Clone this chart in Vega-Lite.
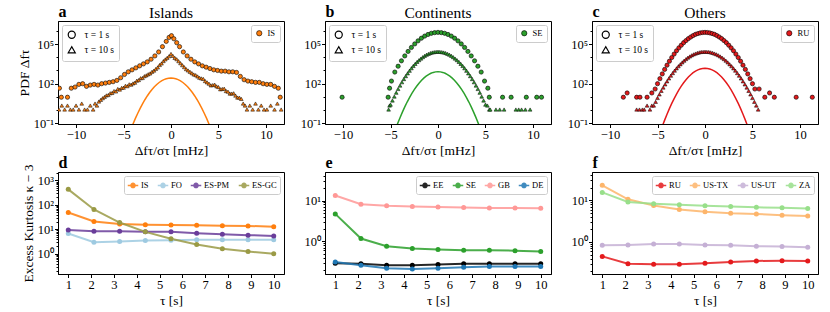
{
"$schema": "https://vega.github.io/schema/vega-lite/v6.json",
"padding": {"left": 16, "top": 2, "right": 2, "bottom": 0},
"config": {
  "font": "Liberation Serif",
  "view": {"stroke": "black", "strokeWidth": 1},
  "axis": {"grid": false, "domainColor": "black", "domainWidth": 1, "tickColor": "black", "labelColor": "black", "titleColor": "black", "labelFont": "Liberation Serif", "titleFont": "Liberation Serif", "labelFontSize": 12.5, "titleFontSize": 13.5, "titleFontWeight": "normal", "tickSize": 3.5, "labelPadding": 1, "titlePadding": 2, "labelFlush": false},
  "legend": {"labelFont": "Liberation Serif", "labelFontSize": 8, "labelColor": "black"},
  "title": {"font": "Liberation Serif", "fontSize": 15.5, "fontWeight": "normal", "color": "black", "frame": "group"}
},
"resolve": {"scale": {"color": "independent", "shape": "independent", "x": "independent", "y": "independent"}, "legend": {"color": "independent", "shape": "independent"}, "axis": {"x": "independent", "y": "independent"}},
"datasets": {
"none": [],
"gauss": [
{"x":-4.75,"ya":0.0034,"yb":0.0102,"yc":0.0186},{"x":-4.5,"ya":0.0108,"yb":0.0325,"yc":0.0593},{"x":-4.25,"ya":0.0323,"yb":0.0969,"yc":0.177},{"x":-4,"ya":0.0905,"yb":0.271,"yc":0.496},{"x":-3.75,"ya":0.239,"yb":0.716,"yc":1.308},{"x":-3.5,"ya":0.59,"yb":1.771,"yc":3.237},{"x":-3.25,"ya":1.373,"yb":4.12,"yc":7.53},{"x":-3,"ya":3.0,"yb":9.0,"yc":16.44},{"x":-2.75,"ya":6.15,"yb":18.46,"yc":33.7},{"x":-2.5,"ya":11.86,"yb":35.6,"yc":65.0},{"x":-2.25,"ya":21.5,"yb":64.4,"yc":117.7},{"x":-2,"ya":36.5,"yb":109.6,"yc":200.2},{"x":-1.75,"ya":58.4,"yb":175.2,"yc":320.1},{"x":-1.5,"ya":87.7,"yb":263,"yc":480.6},{"x":-1.25,"ya":123.6,"yb":370.8,"yc":677.5},{"x":-1,"ya":163.8,"yb":491.3,"yc":897.6},{"x":-0.75,"ya":203.8,"yb":611.4,"yc":1117},{"x":-0.5,"ya":238.3,"yb":714.8,"yc":1306},{"x":-0.25,"ya":261.7,"yb":785,"yc":1434},{"x":0,"ya":270,"yb":810,"yc":1480},
{"x":0.25,"ya":261.7,"yb":785,"yc":1434},{"x":0.5,"ya":238.3,"yb":714.8,"yc":1306},{"x":0.75,"ya":203.8,"yb":611.4,"yc":1117},{"x":1,"ya":163.8,"yb":491.3,"yc":897.6},{"x":1.25,"ya":123.6,"yb":370.8,"yc":677.5},{"x":1.5,"ya":87.7,"yb":263,"yc":480.6},{"x":1.75,"ya":58.4,"yb":175.2,"yc":320.1},{"x":2,"ya":36.5,"yb":109.6,"yc":200.2},{"x":2.25,"ya":21.5,"yb":64.4,"yc":117.7},{"x":2.5,"ya":11.86,"yb":35.6,"yc":65.0},{"x":2.75,"ya":6.15,"yb":18.46,"yc":33.7},{"x":3,"ya":3.0,"yb":9.0,"yc":16.44},{"x":3.25,"ya":1.373,"yb":4.12,"yc":7.53},{"x":3.5,"ya":0.59,"yb":1.771,"yc":3.237},{"x":3.75,"ya":0.239,"yb":0.716,"yc":1.308},{"x":4,"ya":0.0905,"yb":0.271,"yc":0.496},{"x":4.25,"ya":0.0323,"yb":0.0969,"yc":0.177},{"x":4.5,"ya":0.0108,"yb":0.0325,"yc":0.0593},{"x":4.75,"ya":0.0034,"yb":0.0102,"yc":0.0186}
],
"aC": [
{"x":-11.75,"y":45.7},{"x":-11.55,"y":9.5},{"x":-10.9,"y":9.5},{"x":-10.5,"y":45.7},{"x":-10.1,"y":56},{"x":-9.7,"y":89},{"x":-9.3,"y":100},{"x":-8.9,"y":63},{"x":-8.5,"y":79},{"x":-8.1,"y":89},{"x":-7.7,"y":79},{"x":-7.3,"y":100},{"x":-6.9,"y":112},{"x":-6.5,"y":126},{"x":-6.1,"y":141},{"x":-5.7,"y":178},{"x":-5.3,"y":282},{"x":-4.9,"y":501},{"x":-4.5,"y":794},{"x":-4.1,"y":1120},{"x":-3.7,"y":1580},{"x":-3.3,"y":2240},{"x":-2.9,"y":3160},{"x":-2.5,"y":4470},{"x":-2.1,"y":7080},{"x":-1.7,"y":12600},{"x":-1.3,"y":25100},{"x":-0.9,"y":63100},{"x":-0.5,"y":158000},{"x":-0.2,"y":316000},{"x":0.05,"y":427000},{"x":0.3,"y":251000},{"x":0.6,"y":126000},{"x":0.9,"y":63100},{"x":1.3,"y":25100},{"x":1.7,"y":12600},{"x":2.1,"y":7080},{"x":2.5,"y":4470},{"x":2.9,"y":3160},{"x":3.3,"y":2240},{"x":3.7,"y":1780},{"x":4.1,"y":1410},{"x":4.5,"y":1120},{"x":4.9,"y":1000},{"x":5.3,"y":891},{"x":5.7,"y":891},{"x":6.1,"y":794},{"x":6.5,"y":794},{"x":6.9,"y":708},{"x":7.3,"y":355},{"x":7.7,"y":200},{"x":8.1,"y":158},{"x":8.5,"y":141},{"x":8.9,"y":126},{"x":9.3,"y":126},{"x":9.7,"y":100},{"x":10.1,"y":89},{"x":10.5,"y":89},{"x":10.9,"y":63},{"x":11.3,"y":45.7},{"x":11.5,"y":9.5}
],
"aT": [
{"x":-11.8,"y":1.12},{"x":-11.5,"y":2.24},{"x":-11.2,"y":1.12},{"x":-10.9,"y":2.24},{"x":-10.6,"y":1.12},{"x":-10.3,"y":1.12},{"x":-10.0,"y":2.24},{"x":-9.7,"y":1.12},{"x":-9.4,"y":3.16},{"x":-9.1,"y":1.12},{"x":-8.8,"y":1.12},{"x":-8.5,"y":2.24},{"x":-8.2,"y":1.12},{"x":-8.0,"y":3.16},{"x":-7.8,"y":2.24},{"x":-7.6,"y":4.5},
{"x":-7.4,"y":6},{"x":-7.2,"y":8},{"x":-7.0,"y":10},{"x":-6.8,"y":13},{"x":-6.6,"y":14},{"x":-6.4,"y":19},{"x":-6.2,"y":20},{"x":-6.0,"y":28},{"x":-5.8,"y":26},{"x":-5.6,"y":40},{"x":-5.4,"y":36},{"x":-5.2,"y":48},{"x":-5.0,"y":50},{"x":-4.8,"y":70},{"x":-4.6,"y":65},{"x":-4.4,"y":90},{"x":-4.2,"y":85},{"x":-4.0,"y":105},{"x":-3.8,"y":120},{"x":-3.6,"y":170},{"x":-3.4,"y":190},{"x":-3.2,"y":260},{"x":-3.0,"y":270},{"x":-2.8,"y":370},{"x":-2.6,"y":430},{"x":-2.4,"y":520},{"x":-2.2,"y":600},{"x":-2.0,"y":800},{"x":-1.8,"y":980},{"x":-1.6,"y":1300},{"x":-1.4,"y":1700},{"x":-1.2,"y":2600},{"x":-1.0,"y":3400},{"x":-0.8,"y":5100},{"x":-0.6,"y":6900},{"x":-0.4,"y":9100},{"x":-0.2,"y":12000},{"x":0,"y":17800},
{"x":0.2,"y":12600},{"x":0.4,"y":8910},{"x":0.6,"y":7080},{"x":0.8,"y":5010},{"x":1.0,"y":3550},{"x":1.2,"y":2510},{"x":1.4,"y":1780},{"x":1.6,"y":1260},{"x":1.8,"y":1000},{"x":2.0,"y":794},{"x":2.2,"y":631},{"x":2.4,"y":501},{"x":2.6,"y":447},{"x":2.8,"y":355},{"x":3.0,"y":282},{"x":3.2,"y":251},{"x":3.4,"y":230},{"x":3.6,"y":158},{"x":3.8,"y":126},{"x":4.0,"y":100},{"x":4.2,"y":75},{"x":4.4,"y":79},{"x":4.6,"y":85},{"x":4.8,"y":63},{"x":5.0,"y":56},{"x":5.2,"y":38},{"x":5.4,"y":40},{"x":5.6,"y":42},{"x":5.8,"y":28},{"x":6.0,"y":25},{"x":6.2,"y":18},{"x":6.4,"y":18},{"x":6.6,"y":19},{"x":6.8,"y":12.6},{"x":7.0,"y":9},{"x":7.2,"y":8.9},{"x":7.4,"y":7.1},
{"x":7.6,"y":3.16},{"x":7.8,"y":2.24},{"x":8.0,"y":1.12},{"x":8.3,"y":2.24},{"x":8.6,"y":1.12},{"x":8.9,"y":3.16},{"x":9.2,"y":1.12},{"x":9.5,"y":2.24},{"x":9.8,"y":1.12},{"x":10.1,"y":1.12},{"x":10.5,"y":2.24},{"x":10.9,"y":1.12},{"x":11.2,"y":3.16},{"x":11.6,"y":1.12}
],
"bC": [
{"x":-10.1,"y":9.5},{"x":-5.25,"y":9.5},{"x":-5.1,"y":45.7},{"x":-4.9,"y":158},{"x":-4.55,"y":759},{"x":-4.2,"y":2090},{"x":-3.85,"y":5370},{"x":-3.5,"y":12600},{"x":-3.15,"y":27500},{"x":-2.8,"y":55000},{"x":-2.45,"y":102000},{"x":-2.1,"y":174000},{"x":-1.75,"y":275000},{"x":-1.4,"y":398000},{"x":-1.05,"y":525000},{"x":-0.7,"y":646000},{"x":-0.35,"y":724000},{"x":0,"y":759000},{"x":0.35,"y":724000},{"x":0.7,"y":646000},{"x":1.05,"y":525000},{"x":1.4,"y":398000},{"x":1.75,"y":275000},{"x":2.1,"y":174000},{"x":2.45,"y":102000},{"x":2.8,"y":55000},{"x":3.15,"y":27500},{"x":3.5,"y":12600},{"x":3.85,"y":5370},{"x":4.2,"y":2090},{"x":4.55,"y":759},{"x":4.9,"y":158},{"x":5.25,"y":45.7},{"x":5.4,"y":9.5},{"x":6.8,"y":9.5},{"x":7.7,"y":9.5},{"x":9.3,"y":9.5},{"x":10.4,"y":9.5},{"x":10.9,"y":9.5}
],
"bT": [
{"x":-5.2,"y":1.12},{"x":-5.1,"y":2.24},{"x":-5.0,"y":2.63},{"x":-4.8,"y":5.37},{"x":-4.6,"y":10.7},{"x":-4.4,"y":20.9},{"x":-4.2,"y":39.8},{"x":-4.0,"y":72.4},{"x":-3.8,"y":129},{"x":-3.6,"y":224},{"x":-3.4,"y":372},{"x":-3.2,"y":603},{"x":-3.0,"y":955},{"x":-2.8,"y":1480},{"x":-2.6,"y":2190},{"x":-2.4,"y":3160},{"x":-2.2,"y":4470},{"x":-2.0,"y":6030},{"x":-1.8,"y":7940},{"x":-1.6,"y":10200},{"x":-1.4,"y":12900},{"x":-1.2,"y":15500},{"x":-1.0,"y":18200},{"x":-0.8,"y":20900},{"x":-0.6,"y":22900},{"x":-0.4,"y":24500},{"x":-0.2,"y":25700},{"x":0,"y":26300},
{"x":0.2,"y":25700},{"x":0.4,"y":24500},{"x":0.6,"y":22900},{"x":0.8,"y":20900},{"x":1.0,"y":18200},{"x":1.2,"y":15500},{"x":1.4,"y":12900},{"x":1.6,"y":10200},{"x":1.8,"y":7940},{"x":2.0,"y":6030},{"x":2.2,"y":4470},{"x":2.4,"y":3160},{"x":2.6,"y":2190},{"x":2.8,"y":1480},{"x":3.0,"y":955},{"x":3.2,"y":603},{"x":3.4,"y":372},{"x":3.6,"y":224},{"x":3.8,"y":129},{"x":4.0,"y":72.4},{"x":4.2,"y":39.8},{"x":4.4,"y":20.9},{"x":4.6,"y":10.7},{"x":4.8,"y":5.37},{"x":5.0,"y":2.63},
{"x":5.2,"y":2.24},{"x":5.4,"y":1.12},{"x":5.5,"y":1.12},{"x":6.1,"y":1.12},{"x":6.5,"y":1.12},{"x":6.96,"y":1.12},{"x":8.2,"y":1.12},{"x":8.5,"y":1.12},{"x":8.8,"y":1.12},{"x":9.2,"y":1.12},{"x":9.7,"y":1.12}
],
"cC": [
{"x":-8.6,"y":9.5},{"x":-8.2,"y":20},{"x":-7.2,"y":9.5},{"x":-6.85,"y":9.5},{"x":-6.1,"y":9.5},{"x":-5.6,"y":20},{"x":-5.25,"y":39.8},{"x":-5.0,"y":100},{"x":-4.75,"y":240},{"x":-4.5,"y":550},{"x":-4.25,"y":1200},{"x":-4.0,"y":2510},{"x":-3.75,"y":5010},{"x":-3.5,"y":9550},{"x":-3.25,"y":17400},{"x":-3.0,"y":30900},{"x":-2.75,"y":51300},{"x":-2.5,"y":81300},{"x":-2.25,"y":126000},{"x":-2.0,"y":182000},{"x":-1.75,"y":257000},{"x":-1.5,"y":339000},{"x":-1.25,"y":437000},{"x":-1.0,"y":537000},{"x":-0.75,"y":617000},{"x":-0.5,"y":692000},{"x":-0.25,"y":741000},{"x":0,"y":759000},
{"x":0.25,"y":741000},{"x":0.5,"y":692000},{"x":0.75,"y":617000},{"x":1.0,"y":537000},{"x":1.25,"y":437000},{"x":1.5,"y":339000},{"x":1.75,"y":257000},{"x":2.0,"y":182000},{"x":2.25,"y":126000},{"x":2.5,"y":81300},{"x":2.75,"y":51300},{"x":3.0,"y":30900},{"x":3.25,"y":17400},{"x":3.5,"y":9550},{"x":3.75,"y":5010},{"x":4.0,"y":2510},{"x":4.25,"y":1200},{"x":4.5,"y":550},{"x":4.75,"y":240},{"x":5.0,"y":100},{"x":5.25,"y":39.8},
{"x":5.7,"y":39.8},{"x":6.3,"y":9.5},{"x":6.8,"y":20},{"x":7.3,"y":9.5},{"x":9.6,"y":9.5},{"x":11.3,"y":9.5}
],
"cT": [
{"x":-7.2,"y":1.12},{"x":-6.9,"y":1.12},{"x":-6.6,"y":1.12},{"x":-6.4,"y":1.12},{"x":-6.1,"y":2.24},{"x":-5.8,"y":1.12},{"x":-5.6,"y":2.24},
{"x":-5.4,"y":2.24},{"x":-5.2,"y":4.27},{"x":-5.0,"y":8.32},{"x":-4.8,"y":15.5},{"x":-4.6,"y":28.8},{"x":-4.4,"y":51.3},{"x":-4.2,"y":89.1},{"x":-4.0,"y":151},{"x":-3.8,"y":251},{"x":-3.6,"y":407},{"x":-3.4,"y":631},{"x":-3.2,"y":977},{"x":-3.0,"y":1450},{"x":-2.8,"y":2090},{"x":-2.6,"y":2950},{"x":-2.4,"y":4070},{"x":-2.2,"y":5500},{"x":-2.0,"y":7240},{"x":-1.8,"y":9330},{"x":-1.6,"y":11500},{"x":-1.4,"y":14100},{"x":-1.2,"y":16600},{"x":-1.0,"y":19100},{"x":-0.8,"y":21400},{"x":-0.6,"y":23400},{"x":-0.4,"y":25100},{"x":-0.2,"y":25700},{"x":0,"y":26300},
{"x":0.2,"y":25700},{"x":0.4,"y":25100},{"x":0.6,"y":23400},{"x":0.8,"y":21400},{"x":1.0,"y":19100},{"x":1.2,"y":16600},{"x":1.4,"y":14100},{"x":1.6,"y":11500},{"x":1.8,"y":9330},{"x":2.0,"y":7240},{"x":2.2,"y":5500},{"x":2.4,"y":4070},{"x":2.6,"y":2950},{"x":2.8,"y":2090},{"x":3.0,"y":1450},{"x":3.2,"y":977},{"x":3.4,"y":631},{"x":3.6,"y":407},{"x":3.8,"y":251},{"x":4.0,"y":151},{"x":4.2,"y":89.1},{"x":4.4,"y":51.3},{"x":4.6,"y":28.8},{"x":4.8,"y":15.5},{"x":5.0,"y":8.32},{"x":5.2,"y":4.27},{"x":5.4,"y":2.24},{"x":5.6,"y":1.12}
],
"kd": [
{"c":"IS","t":1,"k":49},{"c":"IS","t":2.125,"k":21},{"c":"IS","t":3.25,"k":16.6},{"c":"IS","t":4.375,"k":15.5},{"c":"IS","t":5.5,"k":15},{"c":"IS","t":6.625,"k":14.7},{"c":"IS","t":7.75,"k":14.1},{"c":"IS","t":8.875,"k":13.8},{"c":"IS","t":10,"k":12.9},
{"c":"FO","t":1,"k":6.8},{"c":"FO","t":2.125,"k":3.0},{"c":"FO","t":3.25,"k":3.2},{"c":"FO","t":4.375,"k":3.5},{"c":"FO","t":5.5,"k":3.6},{"c":"FO","t":6.625,"k":3.8},{"c":"FO","t":7.75,"k":3.8},{"c":"FO","t":8.875,"k":3.8},{"c":"FO","t":10,"k":3.8},
{"c":"ES-PM","t":1,"k":9.3},{"c":"ES-PM","t":2.125,"k":8.3},{"c":"ES-PM","t":3.25,"k":8.3},{"c":"ES-PM","t":4.375,"k":7.9},{"c":"ES-PM","t":5.5,"k":7.9},{"c":"ES-PM","t":6.625,"k":7.0},{"c":"ES-PM","t":7.75,"k":6.3},{"c":"ES-PM","t":8.875,"k":5.8},{"c":"ES-PM","t":10,"k":5.4},
{"c":"ES-GC","t":1,"k":430},{"c":"ES-GC","t":2.125,"k":65},{"c":"ES-GC","t":3.25,"k":19},{"c":"ES-GC","t":4.375,"k":7.9},{"c":"ES-GC","t":5.5,"k":4.1},{"c":"ES-GC","t":6.625,"k":2.4},{"c":"ES-GC","t":7.75,"k":1.6},{"c":"ES-GC","t":8.875,"k":1.25},{"c":"ES-GC","t":10,"k":1.0}
],
"ke": [
{"c":"EE","t":1,"k":0.29},{"c":"EE","t":2.125,"k":0.28},{"c":"EE","t":3.25,"k":0.26},{"c":"EE","t":4.375,"k":0.26},{"c":"EE","t":5.5,"k":0.27},{"c":"EE","t":6.625,"k":0.28},{"c":"EE","t":7.75,"k":0.28},{"c":"EE","t":8.875,"k":0.28},{"c":"EE","t":10,"k":0.28},
{"c":"SE","t":1,"k":4.7},{"c":"SE","t":2.125,"k":1.17},{"c":"SE","t":3.25,"k":0.76},{"c":"SE","t":4.375,"k":0.67},{"c":"SE","t":5.5,"k":0.63},{"c":"SE","t":6.625,"k":0.6},{"c":"SE","t":7.75,"k":0.6},{"c":"SE","t":8.875,"k":0.59},{"c":"SE","t":10,"k":0.56},
{"c":"GB","t":1,"k":13.3},{"c":"GB","t":2.125,"k":8.1},{"c":"GB","t":3.25,"k":7.4},{"c":"GB","t":4.375,"k":7.1},{"c":"GB","t":5.5,"k":6.9},{"c":"GB","t":6.625,"k":6.7},{"c":"GB","t":7.75,"k":6.6},{"c":"GB","t":8.875,"k":6.6},{"c":"GB","t":10,"k":6.5},
{"c":"DE","t":1,"k":0.31},{"c":"DE","t":2.125,"k":0.26},{"c":"DE","t":3.25,"k":0.22},{"c":"DE","t":4.375,"k":0.21},{"c":"DE","t":5.5,"k":0.22},{"c":"DE","t":6.625,"k":0.23},{"c":"DE","t":7.75,"k":0.24},{"c":"DE","t":8.875,"k":0.24},{"c":"DE","t":10,"k":0.24}
],
"kf": [
{"c":"RU","t":1,"k":0.45},{"c":"RU","t":2.125,"k":0.30},{"c":"RU","t":3.25,"k":0.29},{"c":"RU","t":4.375,"k":0.29},{"c":"RU","t":5.5,"k":0.31},{"c":"RU","t":6.625,"k":0.33},{"c":"RU","t":7.75,"k":0.35},{"c":"RU","t":8.875,"k":0.355},{"c":"RU","t":10,"k":0.35},
{"c":"US-TX","t":1,"k":23},{"c":"US-TX","t":2.125,"k":10.6},{"c":"US-TX","t":3.25,"k":7.5},{"c":"US-TX","t":4.375,"k":6.0},{"c":"US-TX","t":5.5,"k":5.3},{"c":"US-TX","t":6.625,"k":4.9},{"c":"US-TX","t":7.75,"k":4.7},{"c":"US-TX","t":8.875,"k":4.4},{"c":"US-TX","t":10,"k":4.2},
{"c":"US-UT","t":1,"k":0.83},{"c":"US-UT","t":2.125,"k":0.85},{"c":"US-UT","t":3.25,"k":0.89},{"c":"US-UT","t":4.375,"k":0.89},{"c":"US-UT","t":5.5,"k":0.85},{"c":"US-UT","t":6.625,"k":0.83},{"c":"US-UT","t":7.75,"k":0.79},{"c":"US-UT","t":8.875,"k":0.78},{"c":"US-UT","t":10,"k":0.75},
{"c":"ZA","t":1,"k":15.5},{"c":"ZA","t":2.125,"k":9.1},{"c":"ZA","t":3.25,"k":8.3},{"c":"ZA","t":4.375,"k":7.8},{"c":"ZA","t":5.5,"k":7.4},{"c":"ZA","t":6.625,"k":7.1},{"c":"ZA","t":7.75,"k":6.8},{"c":"ZA","t":8.875,"k":6.6},{"c":"ZA","t":10,"k":6.4}
]
},
"columns": 3,
"spacing": {"row": -4, "column": 14},
"concat": [
{
 "width": 226, "height": 103,
 "title": {"text": "Islands", "offset": -18},
 "resolve": {"axis": {"x": "independent", "y": "independent"}},
 "layer": [
  {"data": {"name": "gauss"}, "mark": {"type": "line", "color": "#ff7f0e", "strokeWidth": 1.5, "clip": true},
   "encoding": {
    "x": {"field": "x", "type": "quantitative", "scale": {"domain": [-11.9, 11.9], "nice": false}, "axis": {"orient": "top", "title": "a", "titleAnchor": "start", "titleAlign": "left", "titleFontWeight": "bold", "titleFontSize": 16, "labels": false, "ticks": false, "domain": false, "titlePadding": 2}},
    "y": {"field": "ya", "type": "quantitative", "scale": {"type": "log", "domain": [0.09, 5500000], "nice": false}, "axis": {"title": "PDF Δfτ", "values": [0.1,1,10,100,1000,10000,100000,1000000], "labelExpr": "datum.value == 0.1 ? '10⁻¹' : datum.value == 100 ? '10²' : datum.value == 100000 ? '10⁵' : ''", "tickSize": {"condition": {"test": "datum.value == 0.1 || datum.value == 100 || datum.value == 100000", "value": 3.5}, "value": 2}}}
   }},
  {"data": {"name": "aT"}, "mark": {"type": "point", "shape": "triangle-up", "filled": true, "opacity": 1, "stroke": "black", "strokeWidth": 0.5, "size": 14, "clip": true},
   "encoding": {
    "x": {"field": "x", "type": "quantitative", "scale": {"domain": [-11.9, 11.9], "nice": false}, "axis": {"title": "Δfτ/στ [mHz]", "values": [-10,-5,0,5,10]}},
    "y": {"field": "y", "type": "quantitative", "scale": {"type": "log", "domain": [0.09, 5500000], "nice": false}, "axis": null},
    "color": {"datum": "IS", "scale": {"domain": ["IS"], "range": ["#ff7f0e"]}, "legend": {"title": null, "orient": "top-right", "offset": 4, "fillColor": "white", "strokeColor": "#cccccc", "cornerRadius": 2, "padding": 4, "labelFontSize": 8.5, "symbolType": "circle", "symbolSize": 28, "symbolStrokeColor": "black", "symbolStrokeWidth": 0.6}}
   }},
  {"data": {"name": "aC"}, "mark": {"type": "point", "shape": "circle", "filled": true, "opacity": 1, "stroke": "black", "strokeWidth": 0.6, "size": 18, "clip": true},
   "encoding": {
    "x": {"field": "x", "type": "quantitative", "scale": {"domain": [-11.9, 11.9], "nice": false}, "axis": null},
    "y": {"field": "y", "type": "quantitative", "scale": {"type": "log", "domain": [0.09, 5500000], "nice": false}, "axis": null},
    "color": {"datum": "IS", "scale": {"domain": ["IS"], "range": ["#ff7f0e"]}, "legend": {"title": null, "orient": "top-right", "offset": 4, "fillColor": "white", "strokeColor": "#cccccc", "cornerRadius": 2, "padding": 4, "labelFontSize": 8.5, "symbolType": "circle", "symbolSize": 28, "symbolStrokeColor": "black", "symbolStrokeWidth": 0.6}}
   }},
  {"data": {"name": "none"}, "mark": {"type": "point", "filled": false, "color": "black", "strokeWidth": 1.2, "opacity": 1},
   "encoding": {
    "x": {"field": "x", "type": "quantitative", "scale": {"domain": [-11.9, 11.9], "nice": false}, "axis": null},
    "y": {"field": "y", "type": "quantitative", "scale": {"type": "log", "domain": [0.09, 5500000], "nice": false}, "axis": null},
    "shape": {"datum": "τ = 1 s", "scale": {"domain": ["τ = 1 s", "τ = 10 s"], "range": ["circle", "triangle-up"]}, "legend": {"title": null, "orient": "top-left", "offset": 4, "fillColor": "white", "strokeColor": "#cccccc", "cornerRadius": 2, "padding": 5, "labelFontSize": 9.5, "labelOffset": 8, "symbolSize": 50, "rowPadding": 3, "symbolStrokeColor": "black", "symbolStrokeWidth": 1.2}}
   }}
 ]
},
{
 "width": 226, "height": 103,
 "title": {"text": "Continents", "offset": -18},
 "resolve": {"axis": {"x": "independent", "y": "independent"}},
 "layer": [
  {"data": {"name": "gauss"}, "mark": {"type": "line", "color": "#2ca02c", "strokeWidth": 1.5, "clip": true},
   "encoding": {
    "x": {"field": "x", "type": "quantitative", "scale": {"domain": [-11.9, 11.9], "nice": false}, "axis": {"orient": "top", "title": "b", "titleAnchor": "start", "titleAlign": "left", "titleFontWeight": "bold", "titleFontSize": 16, "labels": false, "ticks": false, "domain": false, "titlePadding": 2}},
    "y": {"field": "yb", "type": "quantitative", "scale": {"type": "log", "domain": [0.09, 5500000], "nice": false}, "axis": {"title": null, "values": [0.1,1,10,100,1000,10000,100000,1000000], "labelExpr": "datum.value == 0.1 ? '10⁻¹' : datum.value == 100 ? '10²' : datum.value == 100000 ? '10⁵' : ''", "tickSize": {"condition": {"test": "datum.value == 0.1 || datum.value == 100 || datum.value == 100000", "value": 3.5}, "value": 2}}}
   }},
  {"data": {"name": "bT"}, "mark": {"type": "point", "shape": "triangle-up", "filled": true, "opacity": 1, "stroke": "black", "strokeWidth": 0.5, "size": 14, "clip": true},
   "encoding": {
    "x": {"field": "x", "type": "quantitative", "scale": {"domain": [-11.9, 11.9], "nice": false}, "axis": {"title": "Δfτ/στ [mHz]", "values": [-10,-5,0,5,10]}},
    "y": {"field": "y", "type": "quantitative", "scale": {"type": "log", "domain": [0.09, 5500000], "nice": false}, "axis": null},
    "color": {"datum": "SE", "scale": {"domain": ["SE"], "range": ["#2ca02c"]}, "legend": {"title": null, "orient": "top-right", "offset": 4, "fillColor": "white", "strokeColor": "#cccccc", "cornerRadius": 2, "padding": 4, "labelFontSize": 8.5, "symbolType": "circle", "symbolSize": 28, "symbolStrokeColor": "black", "symbolStrokeWidth": 0.6}}
   }},
  {"data": {"name": "bC"}, "mark": {"type": "point", "shape": "circle", "filled": true, "opacity": 1, "stroke": "black", "strokeWidth": 0.6, "size": 18, "clip": true},
   "encoding": {
    "x": {"field": "x", "type": "quantitative", "scale": {"domain": [-11.9, 11.9], "nice": false}, "axis": null},
    "y": {"field": "y", "type": "quantitative", "scale": {"type": "log", "domain": [0.09, 5500000], "nice": false}, "axis": null},
    "color": {"datum": "SE", "scale": {"domain": ["SE"], "range": ["#2ca02c"]}, "legend": {"title": null, "orient": "top-right", "offset": 4, "fillColor": "white", "strokeColor": "#cccccc", "cornerRadius": 2, "padding": 4, "labelFontSize": 8.5, "symbolType": "circle", "symbolSize": 28, "symbolStrokeColor": "black", "symbolStrokeWidth": 0.6}}
   }},
  {"data": {"name": "none"}, "mark": {"type": "point", "filled": false, "color": "black", "strokeWidth": 1.2, "opacity": 1},
   "encoding": {
    "x": {"field": "x", "type": "quantitative", "scale": {"domain": [-11.9, 11.9], "nice": false}, "axis": null},
    "y": {"field": "y", "type": "quantitative", "scale": {"type": "log", "domain": [0.09, 5500000], "nice": false}, "axis": null},
    "shape": {"datum": "τ = 1 s", "scale": {"domain": ["τ = 1 s", "τ = 10 s"], "range": ["circle", "triangle-up"]}, "legend": {"title": null, "orient": "top-left", "offset": 4, "fillColor": "white", "strokeColor": "#cccccc", "cornerRadius": 2, "padding": 5, "labelFontSize": 9.5, "labelOffset": 8, "symbolSize": 50, "rowPadding": 3, "symbolStrokeColor": "black", "symbolStrokeWidth": 1.2}}
   }}
 ]
},
{
 "width": 226, "height": 103,
 "title": {"text": "Others", "offset": -18},
 "resolve": {"axis": {"x": "independent", "y": "independent"}},
 "layer": [
  {"data": {"name": "gauss"}, "mark": {"type": "line", "color": "#e41a1c", "strokeWidth": 1.5, "clip": true},
   "encoding": {
    "x": {"field": "x", "type": "quantitative", "scale": {"domain": [-11.9, 11.9], "nice": false}, "axis": {"orient": "top", "title": "c", "titleAnchor": "start", "titleAlign": "left", "titleFontWeight": "bold", "titleFontSize": 16, "labels": false, "ticks": false, "domain": false, "titlePadding": 2}},
    "y": {"field": "yc", "type": "quantitative", "scale": {"type": "log", "domain": [0.09, 5500000], "nice": false}, "axis": {"title": null, "values": [0.1,1,10,100,1000,10000,100000,1000000], "labelExpr": "datum.value == 0.1 ? '10⁻¹' : datum.value == 100 ? '10²' : datum.value == 100000 ? '10⁵' : ''", "tickSize": {"condition": {"test": "datum.value == 0.1 || datum.value == 100 || datum.value == 100000", "value": 3.5}, "value": 2}}}
   }},
  {"data": {"name": "cT"}, "mark": {"type": "point", "shape": "triangle-up", "filled": true, "opacity": 1, "stroke": "black", "strokeWidth": 0.5, "size": 14, "clip": true},
   "encoding": {
    "x": {"field": "x", "type": "quantitative", "scale": {"domain": [-11.9, 11.9], "nice": false}, "axis": {"title": "Δfτ/στ [mHz]", "values": [-10,-5,0,5,10]}},
    "y": {"field": "y", "type": "quantitative", "scale": {"type": "log", "domain": [0.09, 5500000], "nice": false}, "axis": null},
    "color": {"datum": "RU", "scale": {"domain": ["RU"], "range": ["#e41a1c"]}, "legend": {"title": null, "orient": "top-right", "offset": 4, "fillColor": "white", "strokeColor": "#cccccc", "cornerRadius": 2, "padding": 4, "labelFontSize": 8.5, "symbolType": "circle", "symbolSize": 28, "symbolStrokeColor": "black", "symbolStrokeWidth": 0.6}}
   }},
  {"data": {"name": "cC"}, "mark": {"type": "point", "shape": "circle", "filled": true, "opacity": 1, "stroke": "black", "strokeWidth": 0.6, "size": 18, "clip": true},
   "encoding": {
    "x": {"field": "x", "type": "quantitative", "scale": {"domain": [-11.9, 11.9], "nice": false}, "axis": null},
    "y": {"field": "y", "type": "quantitative", "scale": {"type": "log", "domain": [0.09, 5500000], "nice": false}, "axis": null},
    "color": {"datum": "RU", "scale": {"domain": ["RU"], "range": ["#e41a1c"]}, "legend": {"title": null, "orient": "top-right", "offset": 4, "fillColor": "white", "strokeColor": "#cccccc", "cornerRadius": 2, "padding": 4, "labelFontSize": 8.5, "symbolType": "circle", "symbolSize": 28, "symbolStrokeColor": "black", "symbolStrokeWidth": 0.6}}
   }},
  {"data": {"name": "none"}, "mark": {"type": "point", "filled": false, "color": "black", "strokeWidth": 1.2, "opacity": 1},
   "encoding": {
    "x": {"field": "x", "type": "quantitative", "scale": {"domain": [-11.9, 11.9], "nice": false}, "axis": null},
    "y": {"field": "y", "type": "quantitative", "scale": {"type": "log", "domain": [0.09, 5500000], "nice": false}, "axis": null},
    "shape": {"datum": "τ = 1 s", "scale": {"domain": ["τ = 1 s", "τ = 10 s"], "range": ["circle", "triangle-up"]}, "legend": {"title": null, "orient": "top-left", "offset": 4, "fillColor": "white", "strokeColor": "#cccccc", "cornerRadius": 2, "padding": 5, "labelFontSize": 9.5, "labelOffset": 8, "symbolSize": 50, "rowPadding": 3, "symbolStrokeColor": "black", "symbolStrokeWidth": 1.2}}
   }}
 ]
},
{
 "width": 226, "height": 102,
 "data": {"name": "kd"},
 "resolve": {"axis": {"x": "independent", "y": "independent"}},
 "layer": [
  {"mark": {"type": "line", "strokeWidth": 2, "opacity": 0.85},
   "encoding": {
    "x": {"field": "t", "type": "quantitative", "scale": {"domain": [0.55, 10.45], "nice": false}, "axis": {"orient": "top", "title": "d", "titleAnchor": "start", "titleAlign": "left", "titleFontWeight": "bold", "titleFontSize": 16, "labels": false, "ticks": false, "domain": false, "titlePadding": 2}},
    "y": {"field": "k", "type": "quantitative", "scale": {"type": "log", "domain": [0.15, 2200], "nice": false}, "axis": {"title": "Excess Kurtosis κ − 3", "values": [0.2,0.3,0.4,0.5,0.6,0.7,0.8,0.9,1,2,3,4,5,6,7,8,9,10,20,30,40,50,60,70,80,90,100,200,300,400,500,600,700,800,900,1000,2000], "labelExpr": "datum.value == 1 ? '10⁰' : datum.value == 10 ? '10¹' : datum.value == 100 ? '10²' : datum.value == 1000 ? '10³' : ''", "tickSize": {"condition": {"test": "datum.value == 1 || datum.value == 10 || datum.value == 100 || datum.value == 1000", "value": 3.5}, "value": 2}}},
    "color": {"field": "c", "type": "nominal", "scale": {"domain": ["IS", "FO", "ES-PM", "ES-GC"], "range": ["#ff7f0e", "#9ecae1", "#6a3d9a", "#9a9a45"]}, "legend": {"title": null, "orient": "top-right", "direction": "horizontal", "columns": 4, "offset": 4, "fillColor": "white", "strokeColor": "#cccccc", "cornerRadius": 2, "padding": 3, "labelFontSize": 8.5, "symbolSize": 110, "symbolStrokeWidth": 1.5, "columnPadding": 5, "labelOffset": 2, "symbolType": "M-1,0L-0.4,0M0.4,0L1,0M0.4,0A0.4,0.4,0,1,1,-0.4,0A0.4,0.4,0,1,1,0.4,0"}}
   }},
  {"mark": {"type": "point", "filled": true, "size": 25, "opacity": 1},
   "encoding": {
    "x": {"field": "t", "type": "quantitative", "scale": {"domain": [0.55, 10.45], "nice": false}, "axis": {"title": "τ [s]", "values": [1,2,3,4,5,6,7,8,9,10]}},
    "y": {"field": "k", "type": "quantitative", "scale": {"type": "log", "domain": [0.15, 2200], "nice": false}, "axis": null},
    "color": {"field": "c", "type": "nominal", "scale": {"domain": ["IS", "FO", "ES-PM", "ES-GC"], "range": ["#ff7f0e", "#9ecae1", "#6a3d9a", "#9a9a45"]}, "legend": {"title": null, "orient": "top-right", "direction": "horizontal", "columns": 4, "offset": 4, "fillColor": "white", "strokeColor": "#cccccc", "cornerRadius": 2, "padding": 3, "labelFontSize": 8.5, "symbolSize": 110, "symbolStrokeWidth": 1.5, "columnPadding": 5, "labelOffset": 2, "symbolType": "M-1,0L-0.4,0M0.4,0L1,0M0.4,0A0.4,0.4,0,1,1,-0.4,0A0.4,0.4,0,1,1,0.4,0"}}
   }}
 ]
},
{
 "width": 226, "height": 102,
 "data": {"name": "ke"},
 "resolve": {"axis": {"x": "independent", "y": "independent"}},
 "layer": [
  {"mark": {"type": "line", "strokeWidth": 2, "opacity": 0.85},
   "encoding": {
    "x": {"field": "t", "type": "quantitative", "scale": {"domain": [0.55, 10.45], "nice": false}, "axis": {"orient": "top", "title": "e", "titleAnchor": "start", "titleAlign": "left", "titleFontWeight": "bold", "titleFontSize": 16, "labels": false, "ticks": false, "domain": false, "titlePadding": 2}},
    "y": {"field": "k", "type": "quantitative", "scale": {"type": "log", "domain": [0.158, 50], "nice": false}, "axis": {"title": null, "values": [0.2,0.3,0.4,0.5,0.6,0.7,0.8,0.9,1,2,3,4,5,6,7,8,9,10,20,30,40], "labelExpr": "datum.value == 1 ? '10⁰' : datum.value == 10 ? '10¹' : ''", "tickSize": {"condition": {"test": "datum.value == 1 || datum.value == 10", "value": 3.5}, "value": 2}}},
    "color": {"field": "c", "type": "nominal", "scale": {"domain": ["EE", "SE", "GB", "DE"], "range": ["#000000", "#2ca02c", "#ff9896", "#1f77b4"]}, "legend": {"title": null, "orient": "top-right", "direction": "horizontal", "columns": 4, "offset": 4, "fillColor": "white", "strokeColor": "#cccccc", "cornerRadius": 2, "padding": 3, "labelFontSize": 8.5, "symbolSize": 110, "symbolStrokeWidth": 1.5, "columnPadding": 5, "labelOffset": 2, "symbolType": "M-1,0L-0.4,0M0.4,0L1,0M0.4,0A0.4,0.4,0,1,1,-0.4,0A0.4,0.4,0,1,1,0.4,0"}}
   }},
  {"mark": {"type": "point", "filled": true, "size": 25, "opacity": 1},
   "encoding": {
    "x": {"field": "t", "type": "quantitative", "scale": {"domain": [0.55, 10.45], "nice": false}, "axis": {"title": "τ [s]", "values": [1,2,3,4,5,6,7,8,9,10]}},
    "y": {"field": "k", "type": "quantitative", "scale": {"type": "log", "domain": [0.158, 50], "nice": false}, "axis": null},
    "color": {"field": "c", "type": "nominal", "scale": {"domain": ["EE", "SE", "GB", "DE"], "range": ["#000000", "#2ca02c", "#ff9896", "#1f77b4"]}, "legend": {"title": null, "orient": "top-right", "direction": "horizontal", "columns": 4, "offset": 4, "fillColor": "white", "strokeColor": "#cccccc", "cornerRadius": 2, "padding": 3, "labelFontSize": 8.5, "symbolSize": 110, "symbolStrokeWidth": 1.5, "columnPadding": 5, "labelOffset": 2, "symbolType": "M-1,0L-0.4,0M0.4,0L1,0M0.4,0A0.4,0.4,0,1,1,-0.4,0A0.4,0.4,0,1,1,0.4,0"}}
   }}
 ]
},
{
 "width": 226, "height": 102,
 "data": {"name": "kf"},
 "resolve": {"axis": {"x": "independent", "y": "independent"}},
 "layer": [
  {"mark": {"type": "line", "strokeWidth": 2, "opacity": 0.85},
   "encoding": {
    "x": {"field": "t", "type": "quantitative", "scale": {"domain": [0.55, 10.45], "nice": false}, "axis": {"orient": "top", "title": "f", "titleAnchor": "start", "titleAlign": "left", "titleFontWeight": "bold", "titleFontSize": 16, "labels": false, "ticks": false, "domain": false, "titlePadding": 2}},
    "y": {"field": "k", "type": "quantitative", "scale": {"type": "log", "domain": [0.17, 48], "nice": false}, "axis": {"title": null, "values": [0.2,0.3,0.4,0.5,0.6,0.7,0.8,0.9,1,2,3,4,5,6,7,8,9,10,20,30,40], "labelExpr": "datum.value == 1 ? '10⁰' : datum.value == 10 ? '10¹' : ''", "tickSize": {"condition": {"test": "datum.value == 1 || datum.value == 10", "value": 3.5}, "value": 2}}},
    "color": {"field": "c", "type": "nominal", "scale": {"domain": ["RU", "US-TX", "US-UT", "ZA"], "range": ["#e41a1c", "#fdb56b", "#c5b0d5", "#98df8a"]}, "legend": {"title": null, "orient": "top-right", "direction": "horizontal", "columns": 4, "offset": 4, "fillColor": "white", "strokeColor": "#cccccc", "cornerRadius": 2, "padding": 3, "labelFontSize": 8.5, "symbolSize": 110, "symbolStrokeWidth": 1.5, "columnPadding": 5, "labelOffset": 2, "symbolType": "M-1,0L-0.4,0M0.4,0L1,0M0.4,0A0.4,0.4,0,1,1,-0.4,0A0.4,0.4,0,1,1,0.4,0"}}
   }},
  {"mark": {"type": "point", "filled": true, "size": 25, "opacity": 1},
   "encoding": {
    "x": {"field": "t", "type": "quantitative", "scale": {"domain": [0.55, 10.45], "nice": false}, "axis": {"title": "τ [s]", "values": [1,2,3,4,5,6,7,8,9,10]}},
    "y": {"field": "k", "type": "quantitative", "scale": {"type": "log", "domain": [0.17, 48], "nice": false}, "axis": null},
    "color": {"field": "c", "type": "nominal", "scale": {"domain": ["RU", "US-TX", "US-UT", "ZA"], "range": ["#e41a1c", "#fdb56b", "#c5b0d5", "#98df8a"]}, "legend": {"title": null, "orient": "top-right", "direction": "horizontal", "columns": 4, "offset": 4, "fillColor": "white", "strokeColor": "#cccccc", "cornerRadius": 2, "padding": 3, "labelFontSize": 8.5, "symbolSize": 110, "symbolStrokeWidth": 1.5, "columnPadding": 5, "labelOffset": 2, "symbolType": "M-1,0L-0.4,0M0.4,0L1,0M0.4,0A0.4,0.4,0,1,1,-0.4,0A0.4,0.4,0,1,1,0.4,0"}}
   }}
 ]
}
]
}
